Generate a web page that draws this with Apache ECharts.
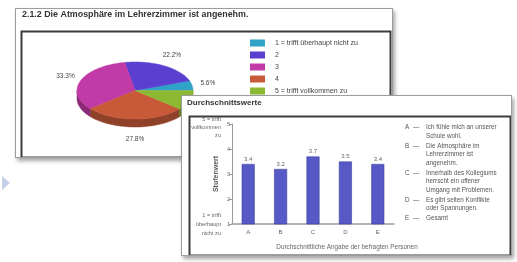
<!DOCTYPE html>
<html>
<head>
<meta charset="utf-8">
<script src="https://cdn.jsdelivr.net/npm/echarts@6/dist/echarts.min.js"></script>
<style>
  html, body { margin:0; padding:0; background:#ffffff; width:517px; height:262px; overflow:hidden; }
  .panel { position:absolute; box-sizing:border-box; border:1px solid #9c9c9c; background:#fff;
           box-shadow: 2px 3px 4px rgba(0,0,0,0.35); }
  #pieWrap { left:15px; top:8px; width:378px; height:150px; }
  #barWrap { left:181px; top:95px; width:331px; height:161px; }
  #pieChart { width:376px; height:148px; }
  #barChart { width:329px; height:159px; }
  #arrow { position:absolute; left:2px; top:176px; width:0; height:0;
           border-left:8px solid #c6cfe8; border-top:7px solid transparent; border-bottom:7px solid transparent; }
</style>
</head>
<body>
<div id="arrow"></div>
<div id="pieWrap" class="panel"><div id="pieChart"></div></div>
<div id="barWrap" class="panel"><div id="barChart"></div></div>
<script>
// ---------- data ----------
const pieTitle = '2.1.2 Die Atmosphäre im Lehrerzimmer ist angenehm.';
const pieCategories = ['1 = trifft überhaupt nicht zu', '2', '3', '4', '5 = trifft vollkommen zu'];
const pieValues = [5.6, 22.2, 33.3, 27.8, 11.1];
const pieColors = ['#2fa3c8', '#5a3fd0', '#c23aa8', '#c85a3a', '#8cb832'];

const barTitle = 'Durchschnittswerte';
const barCategories = ['A', 'B', 'C', 'D', 'E'];
const barValues = [3.4, 3.2, 3.7, 3.5, 3.4];
const yTickValues = [1, 2, 3, 4, 5];
const yEndLabels = { 1: ['1 = trifft', 'überhaupt', 'nicht zu'], 5: ['5 = trifft', 'vollkommen', 'zu'] };
const yAxisName = 'Stufenwert';
const xAxisName = 'Durchschnittliche Angabe der befragten Personen';
const defLetters = ['A', 'B', 'C', 'D', 'E'];
const defTexts = [
  'Ich fühle mich an unserer\nSchule wohl.',
  'Die Atmosphäre im\nLehrerzimmer ist\nangenehm.',
  'Innerhalb des Kollegiums\nherrscht ein offener\nUmgang mit Problemen.',
  'Es gibt selten Konflikte\noder Spannungen.',
  'Gesamt'
];

const FONT = '"Liberation Sans", Arial, sans-serif';

// ---------- pie chart (3D-look ellipse) ----------
function darken(hex, f) {
  const n = parseInt(hex.slice(1), 16);
  const r = Math.round(((n >> 16) & 255) * f), g = Math.round(((n >> 8) & 255) * f), b = Math.round((n & 255) * f);
  return 'rgb(' + r + ',' + g + ',' + b + ')';
}
const PIE = { cx: 119, cy: 81.5, rx: 58, ry: 28.5, depth: 8 };
function arcPts(a0, a1, dy, steps) {
  const pts = [];
  for (let k = 0; k <= steps; k++) {
    const a = a0 + (a1 - a0) * k / steps;
    pts.push([PIE.cx + PIE.rx * Math.cos(a), PIE.cy - PIE.ry * Math.sin(a) + dy]);
  }
  return pts;
}
function makePieRender(i) {
  return function (params, api) {
    const total = pieValues.reduce((s, v) => s + v, 0);
    let start = 0;
    for (let j = 0; j < i; j++) start += pieValues[j];
    const v = api.value(0);
    const a0 = start / total * Math.PI * 2;
    const a1 = (start + v) / total * Math.PI * 2;
    const color = pieColors[i];
    const children = [];
    const lo = Math.max(a0, Math.PI), hi = Math.min(a1, Math.PI * 2);
    if (hi > lo) {
      const top = arcPts(lo, hi, 0, 40);
      const bot = arcPts(hi, lo, PIE.depth, 40);
      children.push({ type: 'polygon', shape: { points: top.concat(bot) },
        style: { fill: darken(color, 0.72), stroke: darken(color, 0.72), lineWidth: 0.5 } });
    }
    const face = [[PIE.cx, PIE.cy]].concat(arcPts(a0, a1, 0, 60));
    children.push({ type: 'polygon', shape: { points: face },
      style: { fill: color, stroke: color, lineWidth: 0.5 } });
    const am = (a0 + a1) / 2;
    const lx = PIE.cx + (PIE.rx + 16) * Math.cos(am);
    let ly = PIE.cy - (PIE.ry + 12) * Math.sin(am);
    if (Math.sin(am) < 0) ly += PIE.depth;
    children.push({ type: 'text', x: lx, y: ly,
      style: { text: v.toFixed(1) + '%', fill: '#444', font: '6.5px ' + FONT, align: 'center', verticalAlign: 'middle' } });
    return { type: 'group', children: children };
  };
}

const pieChart = echarts.init(document.getElementById('pieChart'), null, { renderer: 'canvas' });
pieChart.setOption({
  animation: false,
  color: pieColors,
  title: { text: pieTitle, left: 6, top: 1, padding: 0,
    textStyle: { fontFamily: FONT, fontSize: 8.9, fontWeight: 'bold', color: '#333' } },
  legend: {
    orient: 'vertical', left: 234, top: 30, padding: 0,
    itemWidth: 15, itemHeight: 7, itemGap: 4, icon: 'rect',
    data: pieCategories,
    textStyle: { fontFamily: FONT, fontSize: 7, color: '#444', lineHeight: 8, padding: [0, 0, 0, 5] },
    selectedMode: false
  },
  graphic: [{
    type: 'rect', left: 3, top: 20, shape: { width: 369, height: 126 },
    style: { fill: 'none', stroke: '#3c3c3c', lineWidth: 2 }, z: -1
  }],
  series: pieCategories.map((name, i) => ({
    type: 'custom', name: name, coordinateSystem: 'none',
    itemStyle: { color: pieColors[i] },
    data: [[pieValues[i]]],
    renderItem: makePieRender(i),
    silent: true
  }))
});

// ---------- bar chart ----------
const graphicDefs = [{
  type: 'rect', left: 5, top: 18, shape: { width: 321, height: 139 },
  style: { fill: 'none', stroke: '#3c3c3c', lineWidth: 2 }, z: -1
}];
let ty = 27.6;
const LH = 8.3;
const DEF_FONT = '6.3px ' + FONT;
defLetters.forEach((L, i) => {
  const nLines = defTexts[i].split('\n').length;
  graphicDefs.push({ type: 'text', x: 223, y: ty,
    style: { text: L, fill: '#555', font: DEF_FONT, verticalAlign: 'top', lineHeight: LH } });
  graphicDefs.push({ type: 'text', x: 231, y: ty,
    style: { text: '—', fill: '#555', font: DEF_FONT, verticalAlign: 'top', lineHeight: LH } });
  graphicDefs.push({ type: 'text', x: 244, y: ty,
    style: { text: defTexts[i], fill: '#555', font: DEF_FONT, verticalAlign: 'top', lineHeight: LH } });
  ty += nLines * LH + 2;
});

const barChart = echarts.init(document.getElementById('barChart'), null, { renderer: 'canvas' });
barChart.setOption({
  animation: false,
  title: { text: barTitle, left: 5, top: 3, padding: 0,
    textStyle: { fontFamily: FONT, fontSize: 8, fontWeight: 'bold', color: '#333' } },
  grid: { left: 50, top: 28, width: 162, height: 102 },
  graphic: graphicDefs,
  xAxis: {
    type: 'category', data: barCategories,
    axisLine: { lineStyle: { color: '#9a9a9a', width: 1.5 } },
    axisTick: { show: false },
    axisLabel: { fontFamily: FONT, fontSize: 6, color: '#666', margin: 5 },
    name: xAxisName, nameLocation: 'middle', nameGap: 20,
    nameTextStyle: { fontFamily: FONT, fontSize: 6.4, color: '#666', padding: [0, 0, 0, 68] }
  },
  yAxis: [{
    type: 'value', min: yTickValues[0], max: yTickValues[yTickValues.length - 1], interval: 1,
    axisLine: { show: true, lineStyle: { color: '#9a9a9a', width: 1 } },
    axisTick: { show: true, length: 3, lineStyle: { color: '#9a9a9a' } },
    splitLine: { show: false },
    axisLabel: { fontFamily: FONT, fontSize: 5.5, color: '#666', margin: 2 },
    name: yAxisName, nameLocation: 'middle', nameGap: 12, nameRotate: 90,
    nameTextStyle: { fontFamily: FONT, fontSize: 7, color: '#555', fontWeight: 'bold' }
  }, {
    type: 'value', position: 'left', offset: 8,
    min: yTickValues[0], max: yTickValues[yTickValues.length - 1], interval: 1,
    axisLine: { show: false }, axisTick: { show: false }, splitLine: { show: false },
    axisLabel: { fontFamily: FONT, fontSize: 5.6, color: '#666', margin: 3,
      formatter: v => {
        const lines = yEndLabels[v];
        if (!lines) return '';
        const isTop = v === yTickValues[yTickValues.length - 1];
        const body = lines.map(s => '{' + (isTop ? 't' : 'b') + '|' + s + '}').join('\n');
        return isTop ? '{e| }\n' + body : body;
      },
      rich: {
        e: { fontFamily: FONT, fontSize: 4, color: '#666', lineHeight: 6 },
        t: { fontFamily: FONT, fontSize: 5.6, color: '#666', lineHeight: 8 },
        b: { fontFamily: FONT, fontSize: 5.6, color: '#666', lineHeight: 9 }
      }
    }
  }],
  series: [{
    type: 'bar', data: barValues, barWidth: 13,
    itemStyle: { color: '#5659c6', borderColor: '#3d3fa3', borderWidth: 0.6 },
    label: { show: true, position: 'top', distance: 2, fontFamily: FONT, fontSize: 6, color: '#666',
      formatter: p => p.value.toFixed(1) }
  }]
});
</script>
</body>
</html>
